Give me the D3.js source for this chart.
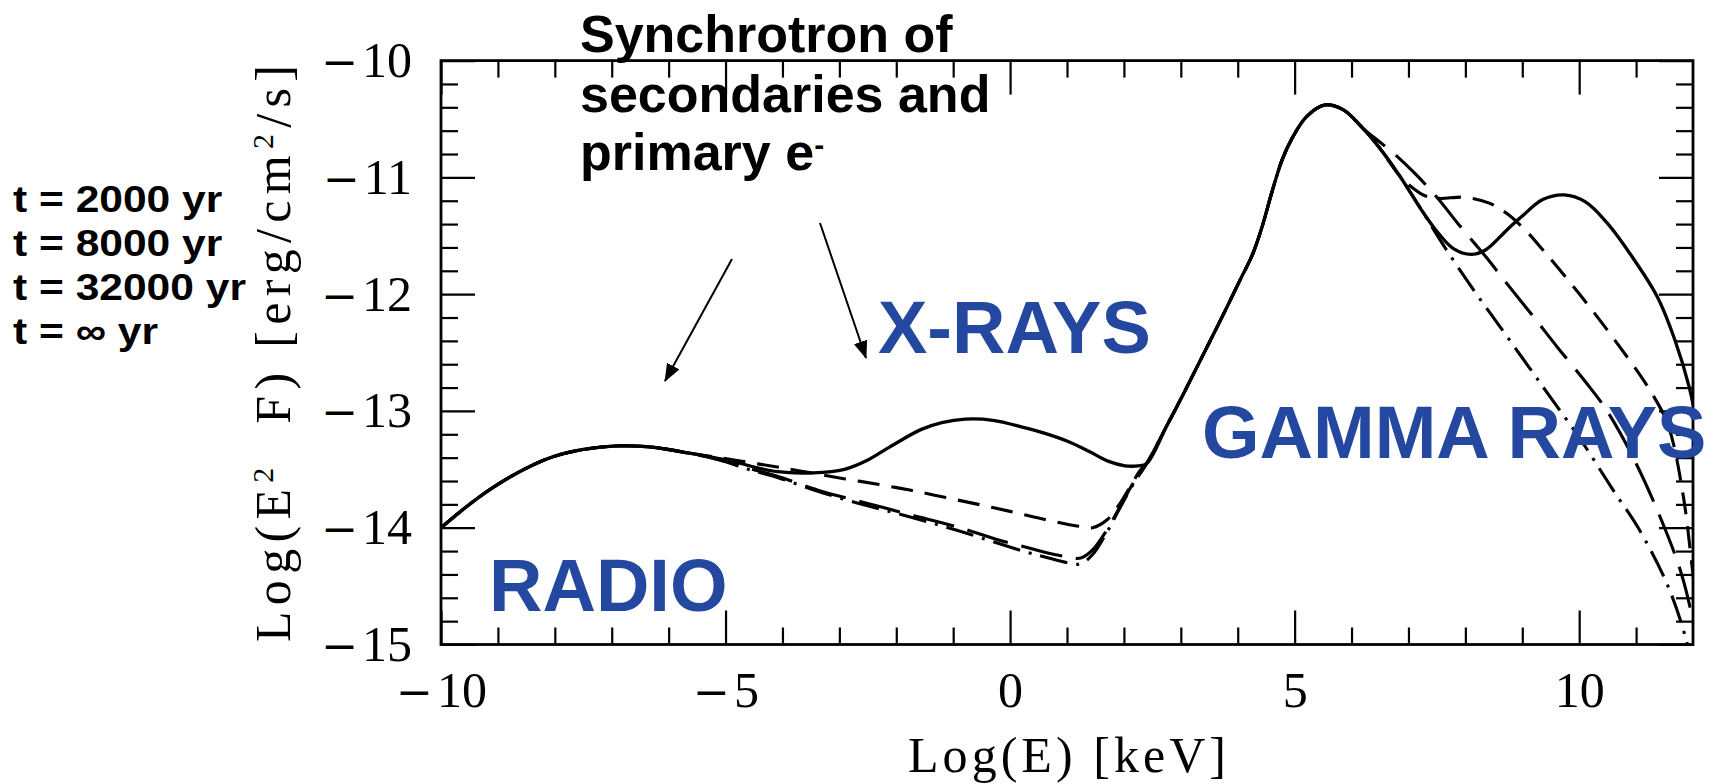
<!DOCTYPE html>
<html>
<head>
<meta charset="utf-8">
<script src="https://cdn.jsdelivr.net/npm/d3@7"></script>
<style>
  html, body { margin: 0; padding: 0; background: #fff; }
  svg { display: block; }
</style>
</head>
<body>
<svg id="chart" width="1727" height="784"></svg>
<script>
// Spectral energy distribution: Log(E) [keV] vs Log(E^2 F) [erg/cm^2/s]
const xTicks = [-10, -5, 0, 5, 10];
const yTicks = [-15, -14, -13, -12, -11, -10];
const ages = ["t = 2000 yr", "t = 8000 yr", "t = 32000 yr", "t = \u221E yr"];
const bands = ["RADIO", "X-RAYS", "GAMMA RAYS"];
const note = ["Synchrotron of", "secondaries and", "primary e"];

// radio branch common to all ages
const sharedLow = [[-10, -14.0], [-9.5, -13.80], [-9.07, -13.65], [-8.5, -13.49], [-8.02, -13.39],
  [-7.5, -13.33], [-6.92, -13.30], [-6.3, -13.31], [-5.66, -13.36]];

// steep rise and main gamma peak common to all ages
const sharedRise = [[2.4, -13.45], [2.75, -13.13], [3.05, -12.85], [3.36, -12.55], [3.67, -12.25],
  [4.04, -11.88], [4.26, -11.66], [4.43, -11.42], [4.61, -11.11], [4.78, -10.85], [4.95, -10.67],
  [5.21, -10.48], [5.53, -10.38], [5.85, -10.42], [6.22, -10.59]];

// t = 2000 yr
const mid2000 = [[-5.2, -13.40], [-4.88, -13.43], [-4.5, -13.48], [-4.09, -13.52], [-3.46, -13.53],
  [-2.91, -13.50], [-2.5, -13.42], [-2.12, -13.31], [-1.57, -13.16], [-1.2, -13.10], [-0.79, -13.07],
  [-0.3, -13.08], [0.23, -13.14], [0.6, -13.19], [1.01, -13.26], [1.4, -13.35], [1.72, -13.43],
  [2.02, -13.47], [2.25, -13.47]];
const high2000 = [[6.48, -10.74], [6.85, -10.99], [7.23, -11.28], [7.48, -11.45], [7.79, -11.61],
  [8.11, -11.66], [8.36, -11.62], [8.73, -11.45], [8.98, -11.34], [9.36, -11.19], [9.74, -11.15],
  [10.11, -11.21], [10.49, -11.39], [10.93, -11.68], [11.37, -12.02], [11.68, -12.39], [11.93, -12.79],
  [12.1, -13.2]];

// t = 8000 yr
const mid8000 = [[-5.11, -13.40], [-4.6, -13.44], [-4.09, -13.48], [-3.5, -13.53], [-2.92, -13.58],
  [-2.3, -13.63], [-1.74, -13.68], [-1.15, -13.74], [-0.56, -13.80], [0.0, -13.86], [0.61, -13.93],
  [1.0, -13.97], [1.24, -13.99], [1.45, -14.0], [1.71, -13.93], [1.92, -13.80], [2.12, -13.64],
  [2.3, -13.5]];
const high8000 = [[6.48, -10.74], [6.85, -10.99], [7.1, -11.1], [7.3, -11.16], [7.55, -11.18],
  [7.98, -11.17], [8.42, -11.22], [8.73, -11.31], [9.05, -11.45], [9.36, -11.62], [9.99, -11.99],
  [10.62, -12.39], [11.24, -12.82], [11.56, -13.12], [11.82, -13.7], [12.0, -14.4], [12.1, -14.8]];

// t = 32000 yr
const mid32000 = [[-5.1, -13.42], [-4.6, -13.49], [-4.09, -13.56], [-3.3, -13.69], [-2.52, -13.79],
  [-1.74, -13.89], [-0.95, -13.99], [-0.17, -14.11], [0.3, -14.17], [0.61, -14.21], [1.01, -14.25],
  [1.24, -14.26], [1.45, -14.19], [1.7, -14.02], [1.92, -13.83], [2.16, -13.62]];
const high32000 = [[6.48, -10.69], [6.8, -10.82], [7.1, -10.96], [7.5, -11.17], [7.86, -11.39],
  [8.36, -11.68], [8.73, -11.91], [9.24, -12.22], [9.61, -12.45], [10.11, -12.75], [10.49, -13.0],
  [11.0, -13.45], [11.5, -14.0], [11.8, -14.4], [12.0, -14.8], [12.1, -15.1]];

// t = infinity
const midInf = [[-5.1, -13.42], [-4.6, -13.50], [-4.09, -13.57], [-3.3, -13.70], [-2.52, -13.81],
  [-1.74, -13.91], [-0.95, -14.02], [-0.17, -14.14], [0.3, -14.21], [0.61, -14.25], [1.01, -14.30],
  [1.24, -14.31], [1.45, -14.23], [1.7, -14.04], [1.92, -13.84], [2.16, -13.63]];
const highInf = [[6.48, -10.74], [6.85, -10.99], [7.23, -11.28], [7.6, -11.57], [8.11, -11.94],
  [8.61, -12.28], [9.11, -12.62], [9.49, -12.88], [9.99, -13.22], [10.18, -13.36], [10.6, -13.68],
  [11.06, -14.02], [11.56, -14.5], [11.88, -14.96], [12.0, -15.25]];

const series = [
  { name: ages[3], dash: "28,9,3,9", pts: sharedLow.concat(midInf, sharedRise, highInf) },
  { name: ages[2], dash: "42,14", pts: sharedLow.concat(mid32000, sharedRise, high32000) },
  { name: ages[1], dash: "22,12", pts: sharedLow.concat(mid8000, sharedRise, high8000) },
  { name: ages[0], dash: null, pts: sharedLow.concat(mid2000, sharedRise, high2000) }
];

const W = 1727, H = 784;
const plot = { left: 441, right: 1693, top: 60.6, bottom: 644.5 };
const svg = d3.select("#chart");
svg.append("rect").attr("width", W).attr("height", H).attr("fill", "#fff");

const x = d3.scaleLinear().domain([-10, 12]).range([plot.left, plot.right]);
const y = d3.scaleLinear().domain([-15, -10]).range([plot.bottom, plot.top]);

const serif = "'Liberation Serif', 'Times New Roman', serif";
const sans = "'Liberation Sans', Arial, Helvetica, sans-serif";
const blue = "#24489f";

const xMinor = d3.range(-9, 12).filter(v => v % 5 !== 0);
const yMinor = d3.range(1, 25).filter(i => i % 5 !== 0).map(i => -15 + i * 0.2);

const MAJ = 34, MIN = 17;

// tick labels: a long minus sign followed by the digits
function signedLabel(textSel) {
  textSel.each(function (v) {
    const t = d3.select(this).text(null);
    if (v < 0) {
      t.append("tspan").attr("font-family", "'DejaVu Serif', serif").attr("font-size", 44).text("\u2212");
      t.append("tspan").attr("dx", 4).text(Math.abs(v));
    } else {
      t.append("tspan").text(v);
    }
  });
}

function styleAxis(g, labelled) {
  g.select(".domain").remove();
  g.attr("font-family", serif).attr("font-size", 50);
  g.selectAll(".tick line").attr("stroke", "#000").attr("stroke-width", 2.2);
  if (labelled) g.selectAll(".tick text").attr("fill", "#000").call(signedLabel);
}

// bottom
svg.append("g").attr("transform", `translate(0,${plot.bottom})`)
  .call(d3.axisBottom(x).tickValues(xTicks).tickSize(-MAJ).tickSizeOuter(0).tickPadding(27))
  .call(g => styleAxis(g, true));
svg.append("g").attr("transform", `translate(0,${plot.bottom})`)
  .call(d3.axisBottom(x).tickValues(xMinor).tickFormat("").tickSize(-MIN).tickSizeOuter(0))
  .call(g => styleAxis(g, false));
// top
svg.append("g").attr("transform", `translate(0,${plot.top})`)
  .call(d3.axisTop(x).tickValues(xTicks).tickFormat("").tickSize(-MAJ).tickSizeOuter(0))
  .call(g => styleAxis(g, false));
svg.append("g").attr("transform", `translate(0,${plot.top})`)
  .call(d3.axisTop(x).tickValues(xMinor).tickFormat("").tickSize(-MIN).tickSizeOuter(0))
  .call(g => styleAxis(g, false));
// left
svg.append("g").attr("transform", `translate(${plot.left},0)`)
  .call(d3.axisLeft(y).tickValues(yTicks).tickSize(-MAJ).tickSizeOuter(0).tickPadding(29))
  .call(g => styleAxis(g, true));
svg.append("g").attr("transform", `translate(${plot.left},0)`)
  .call(d3.axisLeft(y).tickValues(yMinor).tickFormat("").tickSize(-MIN).tickSizeOuter(0))
  .call(g => styleAxis(g, false));
// right
svg.append("g").attr("transform", `translate(${plot.right},0)`)
  .call(d3.axisRight(y).tickValues(yTicks).tickFormat("").tickSize(-MAJ).tickSizeOuter(0))
  .call(g => styleAxis(g, false));
svg.append("g").attr("transform", `translate(${plot.right},0)`)
  .call(d3.axisRight(y).tickValues(yMinor).tickFormat("").tickSize(-MIN).tickSizeOuter(0))
  .call(g => styleAxis(g, false));

// frame
svg.append("rect")
  .attr("x", plot.left).attr("y", plot.top)
  .attr("width", plot.right - plot.left).attr("height", plot.bottom - plot.top)
  .attr("fill", "none").attr("stroke", "#000").attr("stroke-width", 2.8);

// curves
svg.append("clipPath").attr("id", "plotClip").append("rect")
  .attr("x", plot.left).attr("y", plot.top)
  .attr("width", plot.right - plot.left).attr("height", plot.bottom - plot.top);

const line = d3.line().x(d => x(d[0])).y(d => y(d[1])).curve(d3.curveCatmullRom.alpha(0.5));

svg.append("g").attr("clip-path", "url(#plotClip)")
  .selectAll("path").data(series).join("path")
  .attr("d", d => line(d.pts))
  .attr("fill", "none").attr("stroke", "#000")
  .attr("stroke-width", d => d.dash ? 3.1 : 3.3)
  .attr("stroke-dasharray", d => d.dash)
  .attr("stroke-linejoin", "round");

// axis titles
svg.append("text")
  .attr("x", 1067).attr("y", 772).attr("text-anchor", "middle")
  .attr("font-family", serif).attr("font-size", 50).attr("fill", "#000")
  .attr("textLength", 318).attr("lengthAdjust", "spacing")
  .style("white-space", "pre")
  .text("Log(E) [keV]");

const yt = svg.append("text")
  .attr("transform", "translate(290,353.5) rotate(-90)")
  .attr("text-anchor", "middle")
  .attr("font-family", serif).attr("font-size", 50).attr("fill", "#000")
  .attr("textLength", 577).attr("lengthAdjust", "spacing")
  .style("white-space", "pre");
yt.append("tspan").text("Log(E");
yt.append("tspan").attr("font-size", 30).attr("dy", -17).text("2");
yt.append("tspan").attr("dy", 17).text("  F) [erg/cm");
yt.append("tspan").attr("font-size", 30).attr("dy", -17).text("2");
yt.append("tspan").attr("dy", 17).text("/s]");

// age list
const leg = svg.append("g").attr("transform", "translate(13,0) scale(1.15,1)");
leg.selectAll("text").data(ages).join("text")
  .attr("x", 0).attr("y", (d, i) => 212 + i * 44)
  .attr("font-family", sans).attr("font-weight", "bold").attr("font-size", 37).attr("fill", "#000")
  .text(d => d);

// annotation
const ann = svg.append("g");
note.forEach((s, i) => {
  const t = ann.append("text")
    .attr("x", 580).attr("y", [52, 112, 170][i])
    .attr("font-family", sans).attr("font-weight", "bold").attr("font-size", 52).attr("fill", "#000")
    .text(s);
  if (i === 2) t.append("tspan").attr("font-size", 30).attr("dy", -15).text("-");
});

// arrows
const defs = svg.append("defs");
defs.append("marker").attr("id", "head")
  .attr("viewBox", "0 0 18 14").attr("refX", 17).attr("refY", 7)
  .attr("markerWidth", 18).attr("markerHeight", 14)
  .attr("markerUnits", "userSpaceOnUse").attr("orient", "auto")
  .append("path").attr("d", "M0,0 L18,7 L0,14 Z").attr("fill", "#000");

[[732, 259, 665, 381], [820, 223, 866, 358]].forEach(a => {
  svg.append("line")
    .attr("x1", a[0]).attr("y1", a[1]).attr("x2", a[2]).attr("y2", a[3])
    .attr("stroke", "#000").attr("stroke-width", 2)
    .attr("marker-end", "url(#head)");
});

// band labels
const bandPos = [[489, 611], [878, 353], [1202, 458]];
svg.selectAll("text.band").data(bands).join("text")
  .attr("class", "band")
  .attr("x", (d, i) => bandPos[i][0]).attr("y", (d, i) => bandPos[i][1])
  .attr("font-family", sans).attr("font-weight", "bold").attr("font-size", 74).attr("fill", blue)
  .text(d => d);
</script>
</body>
</html>
